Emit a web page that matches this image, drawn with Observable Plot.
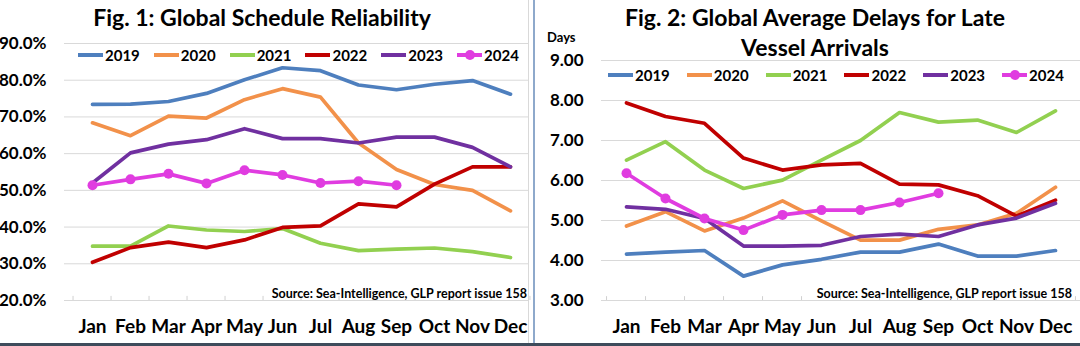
<!DOCTYPE html>
<html>
<head>
<meta charset="utf-8">
<script src="https://cdn.jsdelivr.net/npm/d3@7"></script>
<script src="https://cdn.jsdelivr.net/npm/@observablehq/plot@0.6"></script>
<style>
  html, body { margin: 0; padding: 0; background: #fff; }
  #wrap { position: relative; width: 1080px; height: 346px; overflow: hidden; background: #fff; font-family: Lato, "Open Sans", sans-serif; color: #000; }
  .chart { position: absolute; top: 0; }
  .title { position: absolute; font-weight: 700; font-size: 23px; line-height: 30px; text-align: center; white-space: nowrap; transform: translateX(-50%); }
  .legend { position: absolute; display: flex; align-items: center; font-weight: 700; font-size: 15px; white-space: nowrap; transform: translateY(-50%); }
  .legend .item { display: flex; align-items: center; }
  .legend .sw { position: relative; width: 25px; height: 4px; margin-right: 2px; }
  .legend .sw .dot { position: absolute; left: 7.5px; top: -3px; width: 10px; height: 10px; border-radius: 50%; }
  .source { position: absolute; font-weight: 700; font-size: 12.5px; white-space: nowrap; transform: translate(-100%, -50%); }
  .days { position: absolute; font-weight: 700; font-size: 13px; transform: translateY(-50%); }
  .vline { position: absolute; top: 0; }
</style>
</head>
<body>
<div id="wrap"></div>
<script>
// ---------- data ----------
const months = ["Jan","Feb","Mar","Apr","May","Jun","Jul","Aug","Sep","Oct","Nov","Dec"];
const years = ["2019","2020","2021","2022","2023","2024"];
const colors = ["#4E7FBE","#F2914A","#92D050","#C00000","#7030A0","#E03CE0"];

// Fig. 1: Global Schedule Reliability (%)
const rel2019 = [73.4, 73.5, 74.2, 76.4, 80.1, 83.4, 82.6, 78.7, 77.4, 78.9, 79.9, 76.2];
const rel2020 = [68.4, 64.9, 70.2, 69.7, 74.7, 77.7, 75.4, 62.9, 55.7, 51.6, 50.0, 44.4];
const rel2021 = [34.8, 34.8, 40.3, 39.2, 38.8, 39.6, 35.6, 33.6, 34.0, 34.3, 33.3, 31.7];
const rel2022 = [30.4, 34.4, 35.9, 34.4, 36.5, 39.9, 40.3, 46.3, 45.5, 51.7, 56.4, 56.4];
const rel2023 = [52.0, 60.2, 62.6, 63.8, 66.8, 64.1, 64.1, 62.9, 64.5, 64.5, 61.7, 56.4];
const rel2024 = [51.4, 53.0, 54.5, 51.9, 55.5, 54.2, 52.0, 52.5, 51.4];
const relTicks = [20, 30, 40, 50, 60, 70, 80, 90];

// Fig. 2: Global Average Delays for Late Vessel Arrivals (days)
const del2019 = [4.16, 4.21, 4.25, 3.61, 3.89, 4.03, 4.21, 4.21, 4.41, 4.11, 4.11, 4.25];
const del2020 = [4.86, 5.22, 4.74, 5.06, 5.49, 4.99, 4.51, 4.51, 4.78, 4.89, 5.18, 5.83];
const del2021 = [6.51, 6.97, 6.26, 5.80, 6.01, 6.51, 7.00, 7.70, 7.46, 7.51, 7.20, 7.74];
const del2022 = [7.94, 7.60, 7.43, 6.56, 6.26, 6.39, 6.43, 5.91, 5.89, 5.62, 5.11, 5.51];
const del2023 = [5.34, 5.28, 5.05, 4.36, 4.36, 4.38, 4.60, 4.66, 4.60, 4.89, 5.06, 5.43];
const del2024 = [6.18, 5.55, 5.05, 4.76, 5.14, 5.26, 5.26, 5.45, 5.68];
const delTicks = [3, 4, 5, 6, 7, 8, 9];

const title1 = "Fig. 1: Global Schedule Reliability";
const title2a = "Fig. 2: Global Average Delays for Late";
const title2b = "Vessel Arrivals";
const sourceText = "Source: Sea-Intelligence, GLP report issue 158";
const daysLabel = "Days";

// ---------- helpers ----------
function toRows(seriesList) {
  const rows = [];
  seriesList.forEach((arr, i) => arr.forEach((v, j) => rows.push({year: years[i], month: months[j], value: v})));
  return rows;
}
const wrap = document.getElementById("wrap");
const FONT = "Lato, 'Open Sans', sans-serif";

function makeChart({rows, yDomain, yTicks, fmt, left, width, mLeft, mRight, mTop, xRange}) {
  const half = (xRange[1] - xRange[0]) / 24;
  const tickTop = yDomain[0] + (yDomain[1] - yDomain[0]) * 0.016;
  const chart = Plot.plot({
    width, height: 346,
    marginLeft: mLeft, marginRight: mRight, marginTop: mTop, marginBottom: 46,
    style: {fontFamily: FONT, background: "transparent", overflow: "visible"},
    x: {type: "point", domain: months, padding: 0.5, range: xRange},
    y: {domain: yDomain},
    color: {domain: years, range: colors},
    marks: [
      Plot.gridY(yTicks, {stroke: "#d9d9d9", strokeOpacity: 1, strokeWidth: 1}),
      Plot.ruleX(months, {x: d => d, y1: yDomain[0], y2: tickTop, dx: -half, stroke: "#d0d0d0"}),
      Plot.ruleX([months[11]], {x: d => d, y1: yDomain[0], y2: tickTop, dx: half, stroke: "#d0d0d0"}),
      Plot.axisY(yTicks, {tickSize: 0, tickPadding: 18, tickFormat: fmt, fontSize: 17, fontWeight: "bold", fill: "#000", label: null}),
      Plot.axisX(months, {tickSize: 0, tickPadding: 19, fontSize: 19, fontWeight: "bold", fill: "#000", label: null}),
      Plot.line(rows, {x: "month", y: "value", z: "year", stroke: "year", strokeWidth: 3.7, strokeLinejoin: "round", strokeLinecap: "round"}),
      Plot.dot(rows.filter(d => d.year === "2024"), {x: "month", y: "value", r: 5, fill: "year", stroke: "none"})
    ]
  });
  chart.classList.add("chart");
  chart.style.left = left + "px";
  wrap.appendChild(chart);
}

makeChart({rows: toRows([rel2019, rel2020, rel2021, rel2022, rel2023, rel2024]), yDomain: [20, 90], yTicks: relTicks,
  fmt: d => d.toFixed(1) + "%", left: 0, width: 533, mLeft: 64, mRight: 5, mTop: 43, xRange: [67, 534]});
makeChart({rows: toRows([del2019, del2020, del2021, del2022, del2023, del2024]), yDomain: [3, 9], yTicks: delTicks,
  fmt: d => d.toFixed(2), left: 535, width: 545, mLeft: 66, mRight: 0, mTop: 60, xRange: [66, 545]});

// ---------- decorations ----------
function addDiv(cls, text, css) {
  const d = document.createElement("div");
  d.className = cls;
  if (text != null) d.textContent = text;
  Object.assign(d.style, css);
  wrap.appendChild(d);
  return d;
}
addDiv("title", title1, {left: "262px", top: "2px"});
addDiv("title", title2a, {left: "815px", top: "2px"});
addDiv("title", title2b, {left: "815px", top: "32px"});
addDiv("days", daysLabel, {left: "547px", top: "37px"});
addDiv("source", sourceText, {left: "527px", top: "293px"});
addDiv("source", sourceText, {left: "1072px", top: "293px"});

function addLegend(left, top, gap) {
  const lg = addDiv("legend", null, {left: left + "px", top: top + "px", gap: gap + "px"});
  years.forEach((y, i) => {
    const it = document.createElement("div");
    it.className = "item";
    const sw = document.createElement("div");
    sw.className = "sw";
    sw.style.background = colors[i];
    if (y === "2024") {
      const dot = document.createElement("div");
      dot.className = "dot";
      dot.style.background = colors[i];
      sw.appendChild(dot);
    }
    const t = document.createElement("span");
    t.textContent = y;
    it.appendChild(sw); it.appendChild(t);
    lg.appendChild(it);
  });
}
addLegend(78, 55, 14);
addLegend(608, 75, 17);

addDiv("vline", null, {left: "528px", width: "1px", height: "343px", background: "#d9d9d9"});
addDiv("vline", null, {left: "533px", width: "2px", height: "343px", background: "#8EA9CB"});
addDiv("vline", null, {left: "0px", top: "343px", width: "1080px", height: "3px", background: "#3E4B5B"});
</script>
</body>
</html>
